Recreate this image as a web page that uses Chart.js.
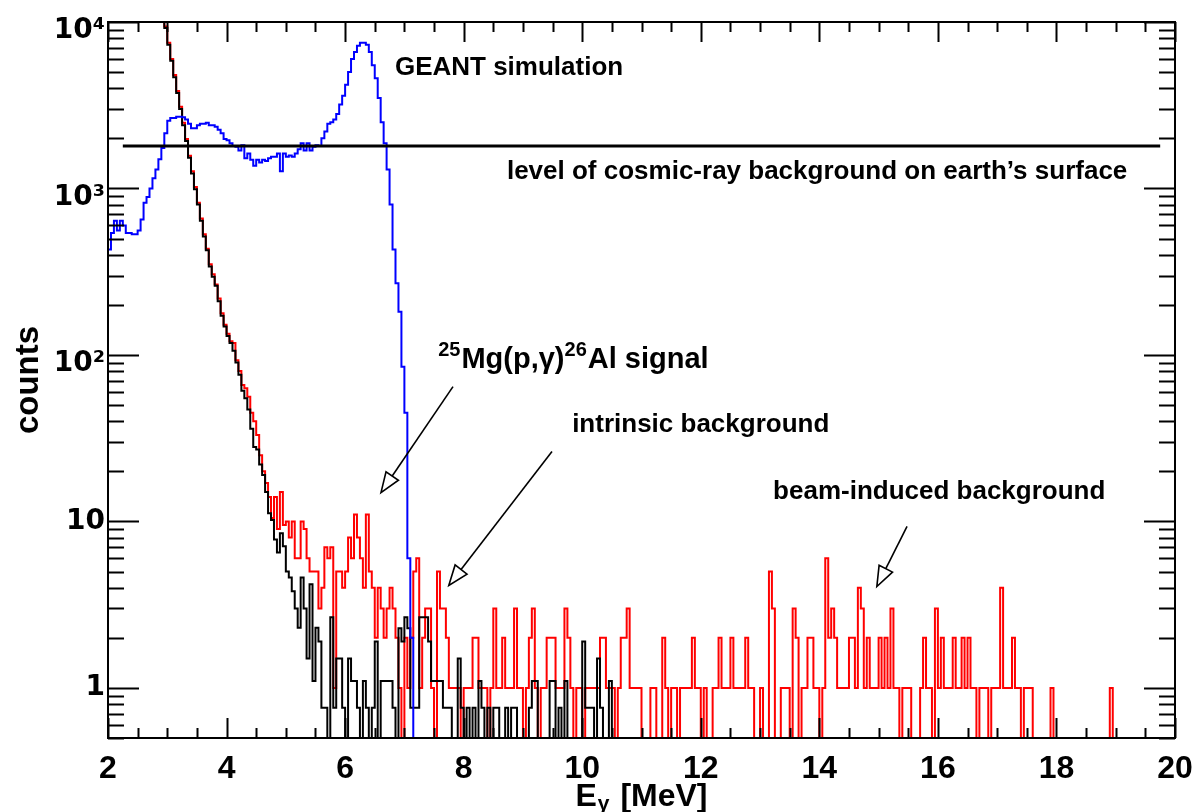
<!DOCTYPE html>
<html>
<head>
<meta charset="utf-8">
<script src="https://cdn.jsdelivr.net/npm/chart.js@4.4.1/dist/chart.umd.min.js"></script>
<style>
html,body{margin:0;padding:0;background:#ffffff;}
#wrap{width:1195px;height:812px;position:relative;}
</style>
</head>
<body>
<div id="wrap"><canvas id="c" width="1195" height="812"></canvas></div>
<script>
// ---------------- data ----------------
const binStart = 2.0;   // MeV, lower edge of first histogram bin
const binWidth = 0.05;  // MeV per bin

const xTickValues = [2, 4, 6, 8, 10, 12, 14, 16, 18, 20];
const xTickLabels = ['2', '4', '6', '8', '10', '12', '14', '16', '18', '20'];
const yTickValues = [1, 10, 100, 1000, 10000];
const yTickLabels = ['1', '10', '10\u00B2', '10\u00B3', '10\u2074'];

// GEANT simulation (blue)
const geantCounts = [
  430, 540, 640, 560, 640, 600, 540, 540, 530, 530,
  560, 650, 820, 890, 1000, 1150, 1300, 1500, 1750, 2150,
  2550, 2650, 2650, 2700, 2700, 2680, 2600, 2450, 2300, 2300,
  2400, 2450, 2450, 2480, 2400, 2400, 2350, 2250, 2150, 1980,
  1950, 1870, 1800, 1780, 1690, 1820, 1520, 1620, 1490, 1370,
  1490, 1430, 1490, 1460, 1520, 1550, 1550, 1620, 1270, 1620,
  1550, 1580, 1550, 1620, 1720, 1870, 1690, 1870, 1690, 1780,
  1820, 1800, 2000, 2200, 2450, 2500, 2600, 2800, 3200, 3600,
  4200, 5000, 6000, 6600, 7200, 7500, 7500, 7300, 6600, 5500,
  4600, 3500, 2500, 1870, 1300, 800, 430, 270, 182, 85,
  45, 6, 2, 0
];

// measured spectrum with beam (red)
const measuredCounts = [
  700000, 560000, 450000, 360000, 290000, 230000, 185000, 148000, 118000, 95000,
  76000, 61000, 49000, 39000, 31000, 25000, 20000, 16000, 12500, 9400,
  7500, 6000, 4800, 3850, 3100, 2480, 1980, 1570, 1270, 1020,
  820, 660, 530, 435, 350, 305, 265, 218, 178, 152,
  134, 121, 118, 93, 80, 66, 63, 56, 45, 40,
  33, 25, 20, 17, 14, 10.5, 14, 9, 15, 9.5,
  10, 8, 10, 6, 6, 10, 9, 6, 5, 5,
  5, 3, 4, 7, 6, 7, 1, 5, 5, 4,
  5, 8, 6, 11, 8, 6, 4, 11, 5, 4,
  2, 4, 3, 2, 3, 4, 3, 2, 1, 0,
  2, 1, 2, 5, 6, 1, 2, 3, 3, 1,
  0, 5, 3, 3, 2, 1, 1, 1, 1, 0,
  1, 1, 1, 2, 2, 1, 1, 1, 0, 1,
  3, 1, 1, 2, 1, 1, 1, 3, 1, 1,
  0, 1, 2, 3, 1, 0, 1, 1, 2, 2,
  2, 1, 1, 1, 3, 2, 1, 0, 1, 1,
  0, 1, 1, 1, 1, 1, 2, 2, 1, 1,
  1, 0, 1, 2, 2, 3, 1, 1, 1, 1,
  0, 0, 0, 1, 1, 0, 0, 2, 1, 0,
  1, 1, 0, 1, 1, 1, 1, 2, 1, 1,
  0, 1, 0, 0, 1, 1, 2, 1, 1, 1,
  2, 1, 1, 1, 1, 2, 1, 1, 0, 0,
  1, 0, 0, 5, 3, 0, 0, 1, 1, 1,
  0, 3, 2, 0, 1, 1, 2, 2, 1, 1,
  0, 1, 6, 2, 3, 2, 1, 1, 1, 1,
  2, 2, 1, 4, 3, 1, 2, 1, 1, 1,
  2, 1, 2, 1, 3, 1, 1, 0, 1, 1,
  1, 0, 0, 0, 1, 2, 1, 1, 0, 3,
  1, 2, 1, 1, 1, 2, 1, 1, 2, 1,
  2, 1, 1, 0, 1, 1, 1, 0, 1, 1,
  1, 4, 1, 1, 1, 2, 1, 1, 0, 1,
  1, 1, 0, 0, 0, 0, 0, 0, 1, 0,
  0, 0, 0, 0, 0, 0, 0, 0, 0, 0,
  0, 0, 0, 0, 0, 0, 0, 0, 1, 0
];

// intrinsic background, no beam (black)
const intrinsicCounts = [
  700000, 560000, 450000, 360000, 290000, 230000, 185000, 148000, 118000, 95000,
  76000, 61000, 49000, 39000, 31000, 25000, 20000, 16000, 12500, 9200,
  7300, 5850, 4650, 3750, 3000, 2400, 1930, 1530, 1230, 990,
  800, 640, 515, 425, 340, 295, 260, 210, 172, 148,
  130, 118, 106, 90, 76, 61, 55, 47, 36, 28,
  27, 22, 19, 15, 11.2, 10.2, 7.8, 6.5, 8.5, 7.1,
  5.0, 4.6, 3.8, 3.0, 2.3, 4.6, 3.0, 1.5, 4.2, 1.1,
  2.3, 1.9, 0.76, 0.76, 0, 2.66, 0.76, 1.5, 1.5, 0.76,
  0, 1.5, 1.1, 1.1, 0.76, 0, 1.1, 0.76, 0, 0.76,
  1.9, 0, 1.1, 1.1, 1.1, 1.1, 0.76, 0, 2.28, 1.9,
  2.66, 2.28, 0.76, 0.76, 0.76, 2.66, 2.66, 2.66, 1.9, 1.1,
  1.1, 1.1, 1.1, 0.76, 0.76, 0.76, 0, 0, 1.5, 0.76,
  0, 0.76, 0, 0.76, 0, 1.1, 0.76, 0, 0.76, 0,
  0.76, 0.76, 0, 0, 0.76, 0, 0.76, 0.76, 0, 0,
  0, 0, 0.76, 1.1, 1.1, 0, 0, 0, 0, 1.1,
  1.1, 0, 0.76, 0, 1.1, 0, 0, 0, 0, 0,
  1.9, 0.76, 0.76, 0.76, 0, 1.5, 0.76, 0, 0, 1.1,
  0
];

// cosmic-ray level line
const cosmicLevel = 1800;
const cosmicRange = [2.25, 19.75];

// annotation texts (anchored in data coordinates: E [MeV], counts)
const labelTexts = [
  { segs: [{ t: 'GEANT simulation' }], x: 6.84, y: 5300, size: 26 },
  { segs: [{ t: 'level of cosmic-ray background on earth\u2019s surface' }], x: 8.73, y: 1258, size: 26 },
  { segs: [{ t: '25', sup: true }, { t: 'Mg(p,\u03B3)' }, { t: '26', sup: true }, { t: 'Al signal' }], x: 7.57, y: 93, size: 29 },
  { segs: [{ t: 'intrinsic background' }], x: 9.83, y: 38, size: 26 },
  { segs: [{ t: 'beam-induced background' }], x: 13.22, y: 15.1, size: 26 }
];
const arrowList = [
  { from: [7.82, 64.5], to: [6.605, 14.9] },
  { from: [9.49, 26.3], to: [7.75, 4.13] },
  { from: [15.48, 9.34], to: [14.97, 4.06] }
];

// ---------------- helpers ----------------
function toHist(arr) {
  const pts = arr.map((v, i) => ({ x: +(binStart + i * binWidth).toFixed(4), y: v > 0 ? v : 1e-3 }));
  pts.push({ x: +(binStart + arr.length * binWidth).toFixed(4), y: 1e-3 });
  return pts;
}
const FONT = '"Liberation Sans", Arial, Helvetica, sans-serif';

const decor = {
  id: 'decor',
  afterDatasetsDraw(chart) {
    const { ctx, chartArea: a, scales } = chart;
    const xs = scales.x, ys = scales.y;
    ctx.save();
    ctx.strokeStyle = '#000';
    ctx.lineWidth = 2;
    ctx.lineCap = 'butt';
    // x ticks (bottom up, top down)
    ctx.beginPath();
    for (let k = 0; k <= 36; k++) {
      const e = 2 + k * 0.5;
      const px = Math.round(xs.getPixelForValue(e)) + 0.5;
      const len = (k % 4 === 0) ? 20 : 10;
      ctx.moveTo(px, a.bottom); ctx.lineTo(px, a.bottom - len);
      ctx.moveTo(px, a.top); ctx.lineTo(px, a.top + len);
    }
    // y ticks (left inward, right inward)
    for (let d = -1; d <= 4; d++) {
      for (let m = 1; m <= 9; m++) {
        const v = m * Math.pow(10, d);
        if (v < 0.5 - 1e-9 || v > 10000 + 1e-9) continue;
        const py = Math.round(ys.getPixelForValue(v)) + 0.5;
        const len = (m === 1) ? 31 : 16;
        ctx.moveTo(a.left, py); ctx.lineTo(a.left + len, py);
        ctx.moveTo(a.right, py); ctx.lineTo(a.right - len, py);
      }
    }
    ctx.stroke();
    // frame
    ctx.lineWidth = 2;
    ctx.strokeRect(a.left, a.top, a.right - a.left, a.bottom - a.top);

    // annotation texts
    ctx.fillStyle = '#000';
    ctx.textBaseline = 'middle';
    ctx.textAlign = 'left';
    for (const lab of labelTexts) {
      let cx = xs.getPixelForValue(lab.x);
      const cy = ys.getPixelForValue(lab.y);
      const size = lab.size;
      for (const s of lab.segs) {
        const fs = s.sup ? Math.round(size * 0.68) : size;
        ctx.font = `bold ${fs}px ${FONT}`;
        ctx.fillText(s.t, cx, cy + (s.sup ? -Math.round(size * 0.36) : 0));
        cx += ctx.measureText(s.t).width + (s.sup ? 1 : 0);
      }
    }
    // arrows with open triangular heads
    ctx.lineWidth = 1.6;
    for (const ar of arrowList) {
      const x1 = xs.getPixelForValue(ar.from[0]), y1 = ys.getPixelForValue(ar.from[1]);
      const x2 = xs.getPixelForValue(ar.to[0]), y2 = ys.getPixelForValue(ar.to[1]);
      const dx = x2 - x1, dy = y2 - y1, L = Math.hypot(dx, dy);
      const ux = dx / L, uy = dy / L, nx = -uy, ny = ux;
      const hl = 20, hw = 7.5;
      const bx = x2 - ux * hl, by = y2 - uy * hl;
      ctx.beginPath();
      ctx.moveTo(x1, y1); ctx.lineTo(bx, by);
      ctx.stroke();
      ctx.beginPath();
      ctx.moveTo(x2, y2);
      ctx.lineTo(bx + nx * hw, by + ny * hw);
      ctx.lineTo(bx - nx * hw, by - ny * hw);
      ctx.closePath();
      ctx.fillStyle = '#fff';
      ctx.fill();
      ctx.stroke();
    }
    // x axis title  E_gamma [MeV], centred under the frame
    ctx.fillStyle = '#000';
    ctx.textBaseline = 'alphabetic';
    const big = `bold 32px ${FONT}`, small = `bold 21px ${FONT}`;
    ctx.font = big; const wE = ctx.measureText('E').width, wM = ctx.measureText(' [MeV]').width;
    ctx.font = small; const wG = ctx.measureText('\u03B3').width;
    const total = wE + 1 + wG + 2 + wM;
    let tx = (a.left + a.right) / 2 - total / 2;
    const ty = 806;
    ctx.font = big; ctx.fillText('E', tx, ty); tx += wE + 1;
    ctx.font = small; ctx.fillText('\u03B3', tx, ty + 4); tx += wG + 2;
    ctx.font = big; ctx.fillText(' [MeV]', tx, ty);
    ctx.restore();
  }
};

const ctx = document.getElementById('c').getContext('2d');
new Chart(ctx, {
  type: 'line',
  data: {
    datasets: [
      { label: 'cosmic-ray level', data: [{ x: cosmicRange[0], y: cosmicLevel }, { x: cosmicRange[1], y: cosmicLevel }],
        borderColor: '#000', borderWidth: 3, pointRadius: 0, stepped: false },
      { label: 'GEANT simulation', data: toHist(geantCounts), borderColor: '#0000ff', borderWidth: 2, pointRadius: 0, stepped: true },
      { label: 'intrinsic background', data: toHist(intrinsicCounts), borderColor: '#000000', borderWidth: 2, pointRadius: 0, stepped: true },
      { label: 'measured', data: toHist(measuredCounts), borderColor: '#ff0000', borderWidth: 2, pointRadius: 0, stepped: true }
    ]
  },
  options: {
    responsive: false,
    animation: false,
    devicePixelRatio: 1,
    events: [],
    layout: { padding: { top: 22, right: 20, left: 0, bottom: 0 } },
    plugins: { legend: { display: false }, tooltip: { enabled: false } },
    elements: { line: { tension: 0, fill: false } },
    scales: {
      x: {
        type: 'linear', min: 2, max: 20,
        grid: { display: false, drawTicks: false },
        border: { display: false },
        afterBuildTicks: (s) => { s.ticks = xTickValues.map(v => ({ value: v })); },
        afterFit: (s) => { s.height = 74; s.paddingLeft = 0; s.paddingRight = 0; },
        ticks: {
          callback: (v) => { const i = xTickValues.indexOf(v); return i >= 0 ? xTickLabels[i] : ''; },
          color: '#000', padding: 12, maxRotation: 0, autoSkip: false,
          font: { family: FONT, size: 32, weight: 'bold' }
        }
      },
      y: {
        type: 'logarithmic', min: 0.5, max: 10000,
        grid: { display: false, drawTicks: false },
        border: { display: false },
        afterBuildTicks: (s) => { s.ticks = yTickValues.map(v => ({ value: v })); },
        afterFit: (s) => { s.width = 108; s.paddingTop = 0; s.paddingBottom = 0; },
        title: { display: true, text: 'counts', color: '#000', padding: { top: 9, bottom: 0 },
                 font: { family: FONT, size: 33, weight: 'bold' } },
        ticks: {
          callback: (v) => {
            const i = yTickValues.indexOf(v);
            if (i < 0) return '';
            const lab = yTickLabels[i];
            return lab.length > 2 ? ['', lab] : lab;   // exponent labels sit a little below their tick
          },
          color: '#000', padding: 3, autoSkip: false,
          font: { family: '"DejaVu Sans", ' + FONT, size: 28, weight: 'bold', lineHeight: '18px' }
        }
      }
    }
  },
  plugins: [decor]
});
</script>
</body>
</html>
